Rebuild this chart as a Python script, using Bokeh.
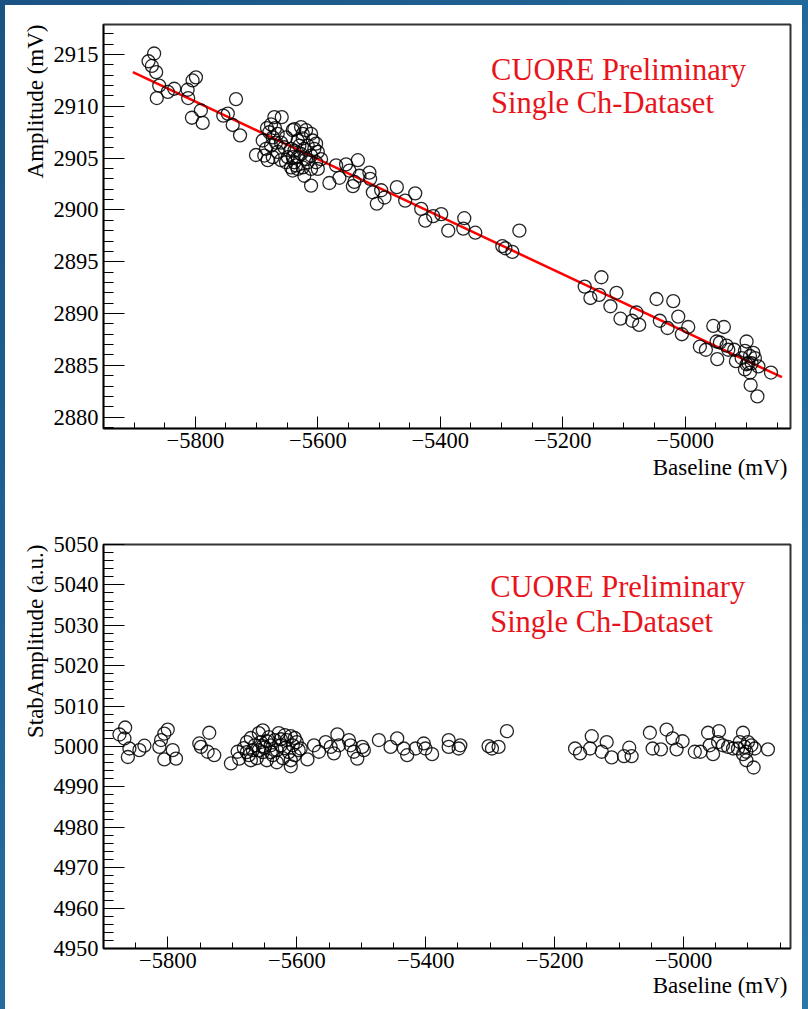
from bokeh.plotting import figure
from bokeh.layouts import column
from bokeh.models import Range1d, FixedTicker, Label, Title
from bokeh.embed import file_html
from bokeh.resources import INLINE

# ---------------- data: top panel (Amplitude vs Baseline) ----------------
amp_baseline = [
    -5876.4, -5867.3, -5871.0, -5864.0, -5859.0, -5863.0, -5845.0, -5834.5, -5812.6, -5811.7,
    -5804.5, -5799.0, -5791.0, -5805.6, -5788.0, -5754.4, -5747.0, -5739.0, -5733.6, -5727.0,
    -5701.0, -5690.0,
    -5671.0, -5658.9, -5679.2, -5673.6, -5665.5, -5668.2, -5676.4, -5684.6, -5660.1, -5654.7,
    -5687.4, -5673.6, -5665.5, -5660.1, -5640.9, -5627.4, -5619.2, -5624.6, -5632.8, -5643.7,
    -5638.3, -5632.8, -5638.3, -5627.4, -5622.0, -5616.4, -5608.2, -5602.8, -5600.0, -5611.0,
    -5616.4, -5624.6, -5632.8, -5643.7, -5611.0, -5622.0, -5611.0, -5602.8, -5600.0, -5594.7,
    -5640.9, -5649.1, -5651.9, -5635.5, -5619.2, -5605.6, -5630.1, -5624.6, -5611.0, -5640.9,
    -5651.9, -5681.8, -5638.3, -5683.0, -5676.4, -5669.9,
    -5581.1, -5570.1, -5564.7, -5553.8, -5548.4, -5540.2, -5542.8, -5534.6, -5532.0, -5515.7,
    -5514.5, -5510.1, -5503.6, -5496.5, -5491.1,
    -5470.9, -5440.9, -5457.3, -5431.1, -5424.5, -5411.5, -5398.4, -5386.9, -5360.8, -5362.4,
    -5342.8, -5298.6, -5293.7, -5282.3, -5270.8,
    -5164.1, -5136.8, -5154.8, -5140.5, -5112.2, -5122.1, -5105.7, -5079.5, -5086.6, -5075.1,
    -5046.8, -5019.5, -5041.4, -5028.8, -5011.3, -4995.0, -5005.4, -4976.0, -4966.2, -4954.1,
    -4936.8, -4948.7, -4943.3, -4947.6, -4932.4, -4929.6, -4919.8, -4917.1, -4899.7, -4902.4,
    -4894.2, -4888.7, -4886.1, -4896.9, -4902.4, -4894.2, -4880.5, -4893.1, -4882.1, -4859.9,
    -4907.8, -4891.5, -4899.7,
]
amp_values = [
    2914.35, 2915.1, 2913.9, 2913.3, 2912.0, 2910.8, 2911.4, 2911.7, 2911.6, 2910.8,
    2912.5, 2912.8, 2909.6, 2908.9, 2908.4, 2909.1, 2909.3, 2908.2, 2910.7, 2907.2,
    2905.3, 2906.7,
    2908.96, 2908.96, 2907.5, 2907.0, 2907.35, 2906.5, 2906.2, 2905.9, 2906.5, 2906.05,
    2905.25, 2905.1, 2905.6, 2904.8, 2907.7, 2908.0, 2907.7, 2907.35, 2906.7, 2905.9,
    2905.7, 2905.1, 2904.6, 2905.4, 2905.9, 2906.2, 2906.7, 2906.4, 2905.6, 2905.25,
    2904.6, 2904.1, 2903.96, 2904.1, 2903.96, 2903.3, 2902.35, 2904.6, 2903.96, 2904.9,
    2905.1, 2905.1, 2904.6, 2904.3, 2904.9, 2905.9, 2906.2, 2906.9, 2907.35, 2903.8,
    2907.0, 2904.8, 2907.8, 2907.9, 2908.25, 2907.9,
    2902.6, 2904.3, 2903.1, 2904.4, 2903.8, 2902.7, 2902.3, 2904.8, 2903.3, 2903.6,
    2903.0, 2901.7, 2900.6, 2901.9, 2901.2,
    2902.2, 2901.6, 2900.9, 2900.1, 2898.96, 2899.4, 2899.6, 2898.0, 2899.2, 2898.2,
    2897.8, 2896.5, 2896.3, 2895.95, 2898.0,
    2892.6, 2893.5, 2891.5, 2891.8, 2892.0, 2890.7, 2889.5, 2890.1, 2889.3, 2888.9,
    2891.4, 2891.2, 2889.3, 2888.6, 2889.7, 2888.7, 2888.0, 2886.8, 2886.5, 2888.8,
    2888.7, 2887.3, 2887.2, 2885.6, 2886.9, 2886.5, 2886.5, 2885.4, 2887.3, 2886.4,
    2885.9, 2886.2, 2885.7, 2885.2, 2884.6, 2884.3, 2884.9, 2883.1, 2882.0, 2884.3,
    2885.7, 2885.2, 2885.1,
]
fit_baseline = [-5902.0, -4842.0]
fit_amplitude = [2913.3, 2883.85]

# ---------------- data: bottom panel (StabAmplitude vs Baseline) ----------------
stab_baseline = [
    -5875.2, -5866.4, -5867.5, -5859.8, -5862.2, -5844.3, -5836.5, -5813.3, -5810.7, -5805.6,
    -5800.3, -5805.6, -5792.6, -5787.5, -5751.4, -5748.8, -5735.9, -5738.4, -5728.2, -5702.3,
    -5691.9, -5689.5,
    -5682.2, -5677.6, -5674.5, -5671.4, -5668.3, -5665.2, -5662.1, -5659.0, -5655.9, -5652.8,
    -5649.7, -5646.6, -5643.5, -5640.4, -5637.3, -5634.2, -5631.1, -5628.0, -5624.9, -5621.8,
    -5618.7, -5615.6, -5612.5, -5609.4, -5606.3, -5603.2, -5600.2, -5597.1, -5671.4, -5652.8,
    -5631.1, -5618.7, -5640.4, -5659.0, -5609.4, -5624.9, -5646.6, -5677.6, -5603.2, -5652.8,
    -5609.4, -5594.0, -5583.6, -5573.4, -5565.6, -5555.3, -5547.5, -5542.4, -5537.1, -5534.7,
    -5519.2, -5516.6, -5511.5, -5506.2, -5496.0, -5498.5, -5472.7, -5454.6, -5444.3, -5434.0,
    -5428.8, -5415.9, -5403.1, -5400.5, -5390.1, -5364.4, -5364.4, -5346.3, -5348.9, -5302.5,
    -5297.2, -5287.0, -5274.0,
    -5168.3, -5160.6, -5142.4, -5145.0, -5126.9, -5119.2, -5111.5, -5092.4, -5084.2, -5080.5,
    -5052.2, -5048.0, -5035.1, -5026.3, -5017.0, -5001.5, -5010.8, -4982.5, -4973.7, -4961.9,
    -4944.9, -4959.3, -4954.2, -4946.4, -4938.7, -4930.9, -4923.2, -4907.7, -4912.8, -4905.1,
    -4900.0, -4894.7, -4902.5, -4907.7, -4889.6, -4902.5, -4891.2, -4869.0, -4915.5,
]
stab_values = [
    5002.97, 5004.7, 5001.98, 4999.5, 4997.4, 4999.1, 5000.2, 4999.9, 5001.6, 5003.2,
    5004.2, 4996.8, 4999.1, 4997.0, 5000.75, 4999.9, 5003.4, 4998.7, 4997.85, 4995.8,
    4998.7, 4997.0,
    4999.6, 5001.1, 4997.85, 5002.1, 4999.1, 5000.3, 4997.1, 5003.3, 5001.1, 4998.6,
    4999.8, 4996.6, 5002.3, 5000.3, 4997.85, 5001.6, 4999.1, 5003.3, 5000.3, 4997.1,
    4999.6, 5001.6, 4998.6, 5002.55, 5000.3, 4997.85, 5001.1, 4999.1, 4996.6, 5004.0,
    4996.1, 5002.8, 4998.6, 4999.1, 4996.6, 5001.8, 5001.3, 4998.6, 5002.1, 5000.1,
    4995.1, 4999.5, 4996.8, 5000.3, 4998.7, 5001.1, 4999.9, 4998.3, 5003.0, 5000.3,
    5001.6, 5000.3, 4998.7, 4997.0, 4999.1, 4999.9, 5001.6, 4999.9, 5002.0, 4999.5,
    4997.85, 4999.5, 5000.75, 4999.5, 4998.1, 5001.6, 4999.9, 5000.3, 4999.5, 5000.1,
    4999.5, 4999.9, 5003.8,
    4999.5, 4998.3, 5002.55, 4999.5, 4998.7, 5001.1, 4997.3, 4997.6, 4999.7, 4997.6,
    5003.4, 4999.5, 4999.3, 5004.2, 5002.0, 5001.3, 4999.3, 4998.7, 4998.7, 5003.4,
    5003.8, 5000.3, 4998.1, 5001.1, 5000.3, 4999.9, 4999.5, 5003.4, 5001.1, 4999.9,
    5001.1, 5000.3, 4998.7, 4998.1, 4999.5, 4996.6, 4994.8, 4999.3, 4999.5,
]

x_major = [-5800, -5600, -5400, -5200, -5000]
x_minor = [-5950 + 50 * i for i in range(24)]
amp_major = [2880, 2885, 2890, 2895, 2900, 2905, 2910, 2915]
amp_minor = list(range(2879, 2918))
stab_major = [4950, 4960, 4970, 4980, 4990, 5000, 5010, 5020, 5030, 5040, 5050]
stab_minor = list(range(4950, 5051, 2))

title_lines = ["CUORE Preliminary", "Single Ch-Dataset"]
x_title = "Baseline (mV)"
amp_title = "Amplitude (mV)"
stab_title = "StabAmplitude (a.u.)"

FONT = "Liberation Serif"


def style(p, xmaj, xmin, ymaj, ymin):
    p.grid.visible = False
    p.outline_line_color = "#333333"
    p.outline_line_width = 2
    p.background_fill_color = "white"
    p.border_fill_color = "white"
    p.xaxis.ticker = FixedTicker(ticks=xmaj, minor_ticks=xmin)
    p.yaxis.ticker = FixedTicker(ticks=ymaj, minor_ticks=ymin)
    p.xaxis.major_label_overrides = {v: "\u2212" + str(abs(v)) for v in xmaj}
    for ax in (p.xaxis[0], p.yaxis[0]):
        ax.axis_line_color = "black"
        ax.axis_line_width = 1.5
        ax.major_tick_line_color = "black"
        ax.minor_tick_line_color = "black"
        ax.major_tick_out = 0
        ax.minor_tick_out = 0
        ax.major_label_text_font = FONT
        ax.major_label_text_font_size = "22.5px"
        ax.major_label_text_color = "black"
    p.xaxis.major_tick_in = 12
    p.xaxis.minor_tick_in = 6
    p.yaxis.major_tick_in = 21
    p.yaxis.minor_tick_in = 10
    p.xaxis.major_label_standoff = 4
    p.yaxis.major_label_standoff = 5


def add_title(p, x, y1, y2):
    for y, t in ((y1, title_lines[0]), (y2, title_lines[1])):
        p.add_layout(Label(x=x, y=y, text=t, text_font=FONT, text_font_size="30.5px",
                           text_color="#e8141c", text_baseline="alphabetic"))


def add_axis_titles(p, ytext, xstand, ystand):
    p.add_layout(Title(text=x_title, align="right", text_font=FONT, text_font_size="23px",
                       text_font_style="normal", text_color="black", standoff=xstand,
                       offset=3), "below")
    p.add_layout(Title(text=ytext, align="right", text_font=FONT, text_font_size="23px",
                       text_font_style="normal", text_color="black", standoff=ystand), "left")


# ---------------- top figure ----------------
p1 = figure(width=797, height=500, output_backend="svg", toolbar_location=None,
            x_range=Range1d(-5950, -4828), y_range=Range1d(2878.9, 2917.9),
            min_border_left=98, min_border_right=12, min_border_top=19, min_border_bottom=77)
style(p1, x_major, x_minor, amp_major, amp_minor)
p1.line(fit_baseline, fit_amplitude, line_color="#ff0000", line_width=2.5)
p1.scatter(amp_baseline, amp_values, marker="circle", size=13, fill_color=None,
           line_color="black", line_width=1.3, line_alpha=0.85)
add_title(p1, -5317, 2913.5, 2910.35)
add_axis_titles(p1, amp_title, 4, 6)

# ---------------- bottom figure ----------------
p2 = figure(width=797, height=504, output_backend="svg", toolbar_location=None,
            x_range=Range1d(-5900, -4834), y_range=Range1d(4950, 5050),
            min_border_left=97, min_border_right=12, min_border_top=39, min_border_bottom=61)
style(p2, x_major, x_minor, stab_major, stab_minor)
p2.scatter(stab_baseline, stab_values, marker="circle", size=13, fill_color=None,
           line_color="black", line_width=1.3, line_alpha=0.85)
add_title(p2, -5300, 5039.4, 5030.9)
add_axis_titles(p2, stab_title, 0, 6)

inner = column(p1, p2, spacing=0, margin=(5, 6, 0, 5), styles={"background": "white"})
layout = column(inner, spacing=0,
                styles={"background": "linear-gradient(135deg, #1a5283 0%, #236a9c 50%, #2a78a8 100%)"})

open("out.html", "w").write(file_html(layout, INLINE))
